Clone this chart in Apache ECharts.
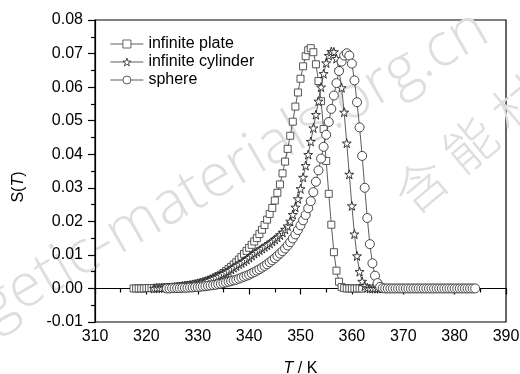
<!DOCTYPE html>
<html>
<head>
<meta charset="utf-8">
<script src="https://cdn.jsdelivr.net/npm/echarts@6/dist/echarts.min.js"></script>
<style>
  html, body { margin: 0; padding: 0; background: #fff; }
  #chart { width: 520px; height: 374px; }
</style>
</head>
<body>
<div id="chart"></div>
<script>
// Temperature T (K) and heat-release density S(T) for three geometries
var seriesNames = ['infinite plate', 'infinite cylinder', 'sphere'];

var plateData = [
  [317.5,0],[318.0,0],[318.5,0],[319.0,0],[319.5,0],[320.0,0.0001],[320.5,0.0001],[321.0,0.0001],[321.5,0.0001],
  [322.0,0.0002],[322.5,0.0002],[323.0,0.0002],[323.5,0.0003],[324.0,0.0003],[324.5,0.0003],[325.0,0.0004],
  [325.5,0.0005],[326.0,0.0005],[326.5,0.0006],[327.0,0.0007],[327.5,0.0008],[328.0,0.0009],[328.5,0.0010],
  [329.0,0.0011],[329.5,0.0012],[330.0,0.0014],[330.5,0.0016],[331.0,0.0018],[331.5,0.0020],[332.0,0.0023],
  [332.5,0.0026],[333.0,0.0029],[333.5,0.0033],[334.0,0.0037],[334.5,0.0041],[335.0,0.0046],[335.5,0.0052],
  [336.0,0.0058],[336.5,0.0064],[337.0,0.0071],[337.5,0.0078],[338.0,0.0086],[338.5,0.0094],[339.0,0.0103],
  [339.5,0.0112],[340.0,0.0121],[340.5,0.0130],[341.0,0.0140],[341.5,0.0150],[342.0,0.0162],[342.5,0.0175],
  [343.0,0.0189],[343.5,0.0205],[344.0,0.0222],[344.5,0.0240],[345.0,0.0262],[345.5,0.0285],[346.0,0.0310],
  [346.5,0.0343],[347.0,0.0378],[347.5,0.0416],[348.0,0.0455],[348.5,0.0497],[349.0,0.0542],[349.5,0.0584],
  [350.0,0.0625],[350.5,0.0662],[351.0,0.0692],[351.5,0.0710],[352.0,0.0716],[352.5,0.0704],[353.0,0.0668],
  [353.5,0.0618],[354.0,0.0558],[354.5,0.0475],[355.0,0.0380],[355.5,0.0282],[356.0,0.0190],[356.5,0.0108],
  [357.0,0.0053],[357.5,0.0020],[358.0,0.0004],[358.5,0.0001],[359.0,0],[359.5,0],[360.0,0],[360.5,0],
  [361.0,0],[361.5,0],[362.0,0]
];

var cylinderData = [
  [321.5,0],[322.0,0.0001],[322.5,0.0001],[323.0,0.0001],[323.5,0.0002],[324.0,0.0002],[324.5,0.0003],
  [325.0,0.0003],[325.5,0.0004],[326.0,0.0005],[326.5,0.0006],[327.0,0.0007],[327.5,0.0008],[328.0,0.0009],
  [328.5,0.0010],[329.0,0.0012],[329.5,0.0013],[330.0,0.0015],[330.5,0.0017],[331.0,0.0019],[331.5,0.0021],
  [332.0,0.0024],[332.5,0.0027],[333.0,0.0030],[333.5,0.0033],[334.0,0.0036],[334.5,0.0040],[335.0,0.0044],
  [335.5,0.0048],[336.0,0.0052],[336.5,0.0057],[337.0,0.0062],[337.5,0.0067],[338.0,0.0072],[338.5,0.0076],
  [339.0,0.0081],[339.5,0.0086],[340.0,0.0092],[340.5,0.0098],[341.0,0.0104],[341.5,0.0109],[342.0,0.0114],
  [342.5,0.0119],[343.0,0.0124],[343.5,0.0129],[344.0,0.0134],[344.5,0.0140],[345.0,0.0146],[345.5,0.0152],
  [346.0,0.0159],[346.5,0.0167],[347.0,0.0176],[347.5,0.0186],[348.0,0.0200],[348.5,0.0220],[349.0,0.0242],
  [349.5,0.0267],[350.0,0.0297],[350.5,0.0331],[351.0,0.0366],[351.5,0.0399],[352.0,0.0438],[352.5,0.0478],
  [353.0,0.0518],[353.5,0.0558],[354.0,0.0600],[354.5,0.0640],[355.0,0.0672],[355.5,0.0694],[356.0,0.0706],
  [356.5,0.0705],[357.0,0.0685],[357.5,0.0650],[358.0,0.0598],[358.5,0.0525],[359.0,0.0433],[359.5,0.0340],
  [360.0,0.0246],[360.5,0.0162],[361.0,0.0097],[361.5,0.0050],[362.0,0.0021],[362.5,0.0007],[363.0,0.0002],
  [363.5,0],[364.0,0],[364.5,0],[365.0,0],[365.5,0],[366.0,0]
];

var sphereData = [
  [324.0,0],[324.5,0],[325.0,0.0001],[325.5,0.0001],[326.0,0.0001],[326.5,0.0001],[327.0,0.0002],
  [327.5,0.0002],[328.0,0.0002],[328.5,0.0003],[329.0,0.0003],[329.5,0.0004],[330.0,0.0004],[330.5,0.0005],
  [331.0,0.0006],[331.5,0.0007],[332.0,0.0008],[332.5,0.0009],[333.0,0.0010],[333.5,0.0011],[334.0,0.0013],
  [334.5,0.0014],[335.0,0.0016],[335.5,0.0018],[336.0,0.0020],[336.5,0.0022],[337.0,0.0024],[337.5,0.0026],
  [338.0,0.0029],[338.5,0.0032],[339.0,0.0035],[339.5,0.0038],[340.0,0.0041],[340.5,0.0045],[341.0,0.0049],
  [341.5,0.0053],[342.0,0.0057],[342.5,0.0062],[343.0,0.0067],[343.5,0.0072],[344.0,0.0078],[344.5,0.0084],
  [345.0,0.0090],[345.5,0.0097],[346.0,0.0104],[346.5,0.0111],[347.0,0.0119],[347.5,0.0128],[348.0,0.0138],
  [348.5,0.0149],[349.0,0.0161],[349.5,0.0174],[350.0,0.0188],[350.5,0.0203],[351.0,0.0219],[351.5,0.0239],
  [352.0,0.0260],[352.5,0.0287],[353.0,0.0318],[353.5,0.0352],[354.0,0.0387],[354.5,0.0422],[355.0,0.0458],
  [355.5,0.0496],[356.0,0.0535],[356.5,0.0575],[357.0,0.0612],[357.5,0.0648],[358.0,0.0676],[358.5,0.0694],
  [359.0,0.0701],[359.5,0.0694],[360.0,0.0670],[360.5,0.0620],[361.0,0.0555],[361.5,0.0480],[362.0,0.0395],
  [362.5,0.0300],[363.0,0.0210],[363.5,0.0132],[364.0,0.0075],[364.5,0.0038],[365.0,0.0016],[365.5,0.0005],
  [366.0,0.0001],[366.5,0],[367.0,0],[367.5,0],[368.0,0],[368.5,0],[369.0,0],[369.5,0],[370.0,0],[370.5,0],
  [371.0,0],[371.5,0],[372.0,0],[372.5,0],[373.0,0],[373.5,0],[374.0,0],[374.5,0],[375.0,0],[375.5,0],
  [376.0,0],[376.5,0],[377.0,0],[377.5,0],[378.0,0],[378.5,0],[379.0,0],[379.5,0],[380.0,0],[380.5,0],
  [381.0,0],[381.5,0],[382.0,0],[382.5,0],[383.0,0],[383.5,0],[384.0,0]
];

var xTicks = { min: 310, max: 390, step: 10 };
var yTicks = { min: -0.01, max: 0.08, step: 0.01 };

var FONT = '"Liberation Sans", Arial, sans-serif';
var FS = 16;
var STAR = 'path://M100,0L122.45,69.1L195.1,69.1L136.3,111.8L158.8,180.9L100,138.2L41.2,180.9L63.7,111.8L4.9,69.1L77.55,69.1Z';

function makeSeries(name, data, symbol, size, edge) {
  return {
    name: name,
    type: 'line',
    data: data,
    symbol: symbol,
    symbolSize: size,
    showAllSymbol: true,
    lineStyle: { color: '#333', width: 0.8 },
    itemStyle: { color: '#fff', borderColor: edge, borderWidth: 0.9 },
    emphasis: { disabled: true },
    z: 3
  };
}

var chart = echarts.init(document.getElementById('chart'), null, { renderer: 'canvas' });

chart.setOption({
  animation: false,
  backgroundColor: '#fff',
  graphic: [
    {
      type: 'text', silent: true, z: 0,
      x: 180, y: 200, rotation: 30 * Math.PI / 180,
      style: {
        text: 'energetic-materials.org.cn',
        fill: '#dedede', font: '300 60px "Open Sans", "Liberation Sans", sans-serif',
        align: 'center', verticalAlign: 'middle'
      }
    },
    {
      type: 'text', silent: true, z: 0,
      x: 494, y: 124, rotation: 40 * Math.PI / 180,
      style: {
        text: '含 能 材 料',
        fill: '#dedede', font: '300 52px "Noto Sans CJK SC", sans-serif',
        align: 'center', verticalAlign: 'middle'
      }
    }
  ],
  grid: {
    left: 95, right: 14, top: 20, bottom: 52,
    outerBoundsMode: 'none',
    show: true, borderColor: '#000', borderWidth: 1.2, backgroundColor: 'transparent',
    containLabel: false
  },
  legend: {
    orient: 'vertical',
    left: 105, top: 30,
    itemWidth: 33, itemHeight: 10, itemGap: 0,
    data: seriesNames,
    itemStyle: { color: '#fff', borderWidth: 0.8 },
    lineStyle: { color: '#333', width: 0.8 },
    textStyle: { fontFamily: FONT, fontSize: FS, color: '#000', lineHeight: 18 },
    selectedMode: false
  },
  xAxis: {
    type: 'value',
    min: xTicks.min, max: xTicks.max, interval: xTicks.step,
    name: '{i|T} / K',
    nameLocation: 'middle', nameGap: 39,
    nameTextStyle: {
      fontFamily: FONT, fontSize: FS, color: '#000',
      rich: { i: { fontStyle: 'italic', fontFamily: FONT, fontSize: FS, color: '#000' } }
    },
    axisLine: { lineStyle: { color: '#000', width: 1.2 } },
    axisTick: { inside: false, length: 6, lineStyle: { color: '#000', width: 1.2 } },
    minorTick: { show: true, splitNumber: 2, length: 4, lineStyle: { color: '#000', width: 1.2 } },
    splitLine: { show: false },
    axisLabel: { fontFamily: FONT, fontSize: FS, color: '#000', margin: 7 }
  },
  yAxis: {
    type: 'value',
    min: yTicks.min, max: yTicks.max, interval: yTicks.step,
    name: 'S({i|T})',
    nameLocation: 'middle', nameGap: 68, nameRotate: 90,
    nameTextStyle: {
      fontFamily: FONT, fontSize: FS, color: '#000', padding: [0, 32, 0, 0],
      rich: { i: { fontStyle: 'italic', fontFamily: FONT, fontSize: FS, color: '#000' } }
    },
    axisLine: { lineStyle: { color: '#000', width: 1.2 } },
    axisTick: { inside: false, length: 7, lineStyle: { color: '#000', width: 1.2 } },
    minorTick: { show: true, splitNumber: 2, length: 4, lineStyle: { color: '#000', width: 1.2 } },
    splitLine: { show: false },
    axisLabel: {
      fontFamily: FONT, fontSize: FS, color: '#000', margin: 12,
      formatter: function (v) { return (Math.abs(v) < 1e-9 ? 0 : v).toFixed(2); }
    }
  },
  series: [
    makeSeries(seriesNames[0], plateData, 'rect', 7, '#444'),
    makeSeries(seriesNames[1], cylinderData, STAR, 9, '#222'),
    makeSeries(seriesNames[2], sphereData, 'circle', 9, '#333')
  ]
});
</script>
</body>
</html>
